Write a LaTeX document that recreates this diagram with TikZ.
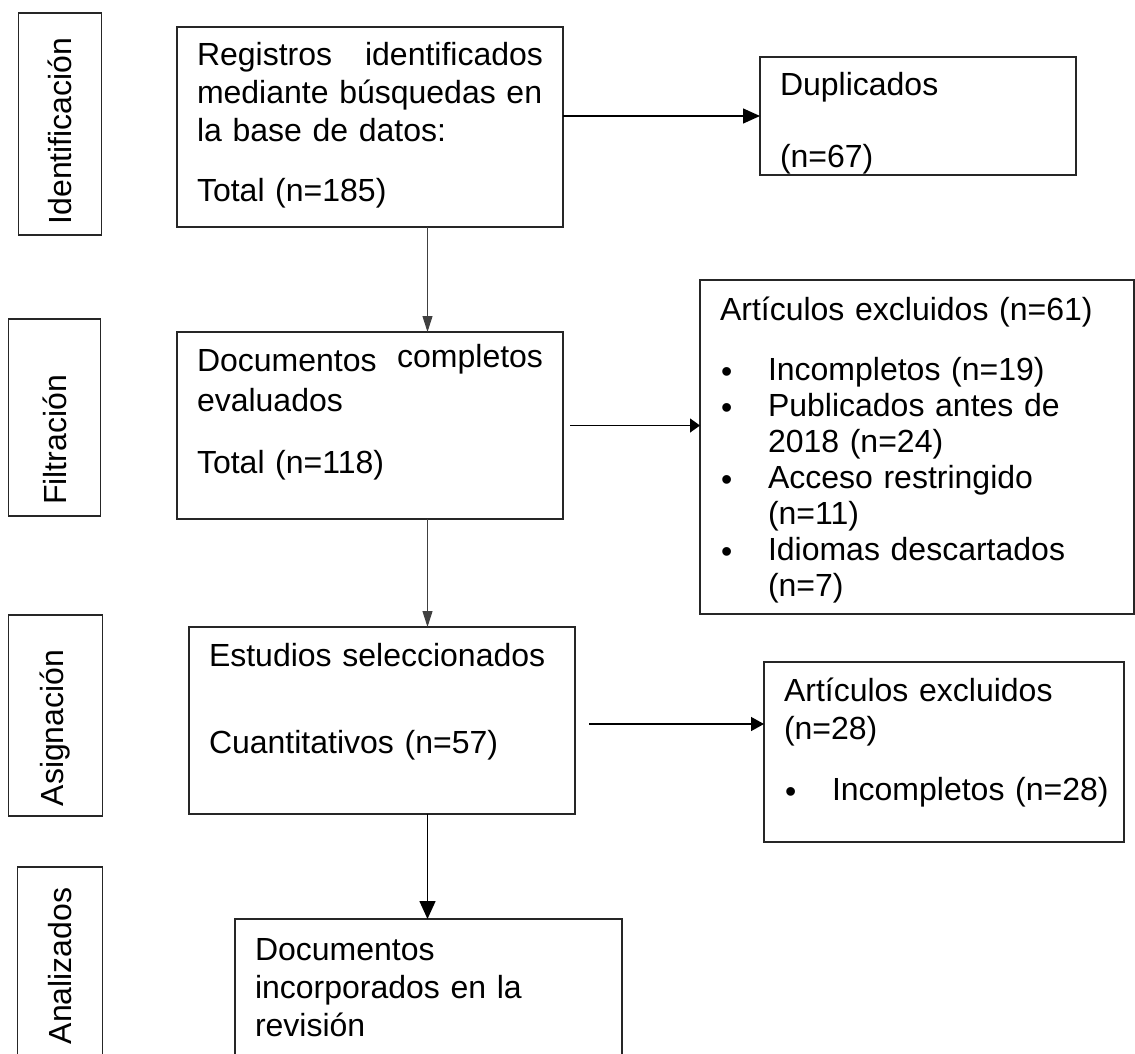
\documentclass[tikz,border=0pt]{standalone}
\usepackage{fontspec}
\setmainfont{Liberation Sans}
\usetikzlibrary{arrows.meta,positioning}

\newcommand{\bulletmark}{\makebox[24pt][l]{\hspace{0.5pt}\raisebox{-1pt}{\textbullet}}}
\newcommand{\itemind}{\hspace*{24pt}}

\begin{document}
\begin{tikzpicture}[
    every node/.style={font=\fontsize{16pt}{19pt}\selectfont, outer sep=0pt},
    box/.style={rectangle, draw=black!85, line width=0.8pt, inner xsep=10pt, inner ysep=0pt, align=left, text height=19.5pt, anchor=north west},
    phase/.style={rectangle, draw=black!85, line width=0.8pt, rotate=90, inner sep=0pt},
    arrow/.style={line width=0.7pt, -{Triangle[length=8pt,width=6pt]}}
]
\useasboundingbox (0,0) rectangle (567.5pt,-527pt);
\clip (0,0) rectangle (567.5pt,-527pt);

% Phases
\node[phase, minimum width=111pt, minimum height=41.5pt] (ident) at (30pt,-62pt) {Identificación\kern7pt};
\node[phase, minimum width=98.5pt, minimum height=46pt] (filt) at (27.25pt,-208.75pt) {Filtración\kern22.5pt};
\node[phase, minimum width=100.5pt, minimum height=47pt] (asig) at (27.75pt,-357.75pt) {Asignación\kern12.5pt};
\node[phase, minimum width=99pt, minimum height=42.5pt] (anal) at (29.95pt,-483pt) {Analizados};

% Main flow
\node[box, text width=173pt, text depth=80.5pt] (reg) at (88.5pt,-13.5pt)
    {Registros\hfill identificados\\ mediante búsquedas en\\ la base de datos:\\[11pt] Total (n=185)};
\node[box, text width=173pt, text depth=74pt, below=52.5pt of reg.south west, anchor=north west] (doc)
    {Documentos\hfill\raisebox{2pt}{completos}\\[1pt] evaluados\\[12pt] Total (n=118)};
\node[box, text width=173pt, text depth=74pt, below=54pt of doc.south west, anchor=north west, xshift=6pt] (est)
    {Estudios seleccionados\\[24.5pt] Cuantitativos (n=57)};
\node[box, text width=173.5pt, text height=20.5pt, text depth=73pt, below=52.5pt of est.south west, anchor=north west, xshift=23pt] (inc)
    {Documentos\\ incorporados en la\\ revisión};

% Exclusions
\node[box, text width=138pt, text depth=39.5pt, right=98.5pt of reg.north east, anchor=north west, yshift=-15pt] (dup)
    {Duplicados\\[17pt] (n=67)};
\node[box, font=\fontsize{16pt}{18pt}\selectfont, text width=197pt, text height=20pt, text depth=147pt, right=68.5pt of doc.north east, anchor=north west, yshift=26pt] (ex61)
    {Artículos excluidos (n=61)\\[12pt]
     \bulletmark Incompletos (n=19)\\
     \bulletmark Publicados antes de\\
     \itemind 2018 (n=24)\\
     \bulletmark Acceso restringido\\
     \itemind (n=11)\\
     \bulletmark Idiomas descartados\\
     \itemind (n=7)};
\node[box, text width=160pt, text depth=70.5pt, right=94.5pt of est.north east, anchor=north west, yshift=-17.5pt] (ex28)
    {Artículos excluidos\\ (n=28)\\[11.5pt] \bulletmark\mbox{Incompletos (n=28)}};

% Connections
\coordinate (axis) at ([xshift=28.75pt]reg.south);
\draw[arrow, line width=0.5pt, draw=black!75, -{Triangle[length=8pt,width=5pt]}] (reg.south -| axis) -- (doc.north -| axis);
\draw[arrow, line width=0.5pt, draw=black!75, -{Triangle[length=8pt,width=5pt]}] (doc.south -| axis) -- (est.north -| axis);
\draw[arrow, line width=0.8pt, -{Triangle[length=9pt,width=8pt]}] (est.south -| axis) -- (inc.north -| axis);
\draw[arrow, -{Triangle[length=8.5pt,width=7.5pt]}] (reg.east |- dup.west) -- (dup.west);
\draw[arrow, -{Triangle[length=5pt,width=7pt]}] ([xshift=3.5pt]doc.east) -- (doc.east -| ex61.west);
\draw[arrow, -{Triangle[length=6.5pt,width=7pt]}] ([xshift=7pt,yshift=-1.75pt]est.east) -- ([yshift=-1.75pt]est.east -| ex28.west);

\end{tikzpicture}
\end{document}
